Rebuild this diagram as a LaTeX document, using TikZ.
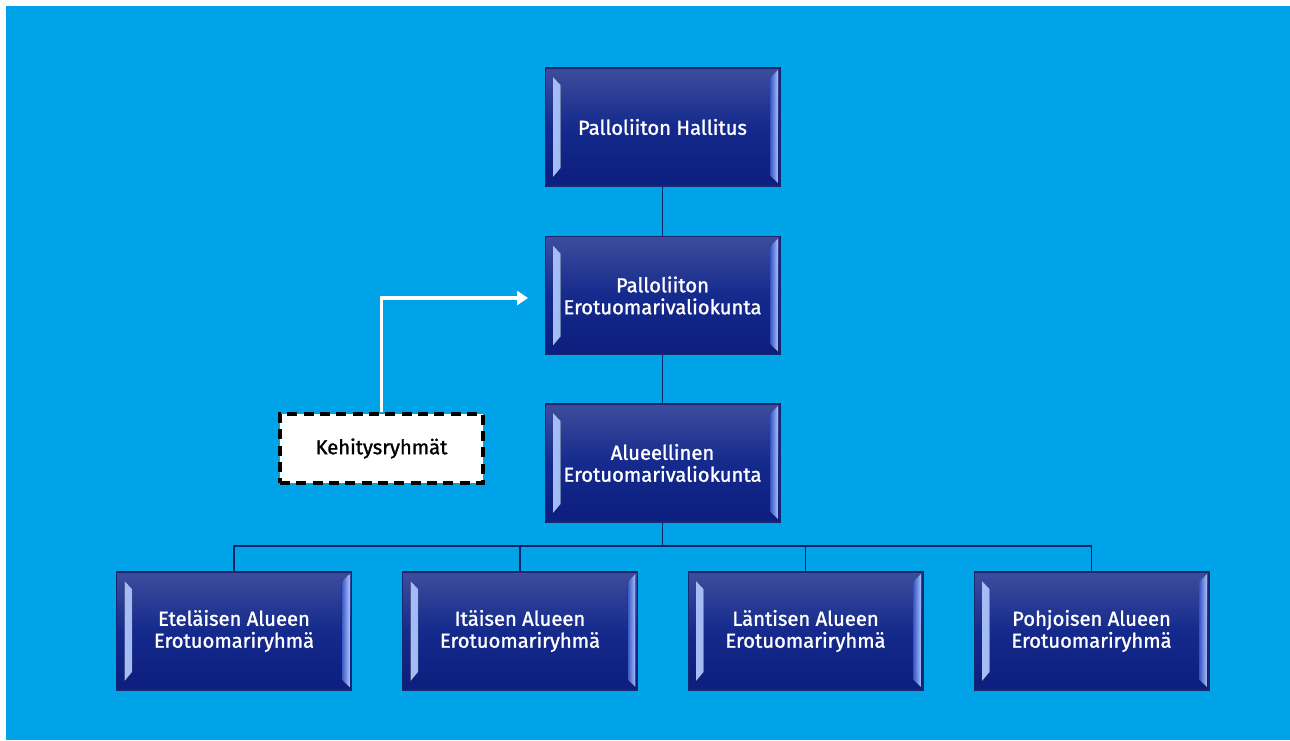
\documentclass[tikz,border=0pt]{standalone}
\usepackage{fontspec}
\setmainfont{Fira Sans}
\newfontfamily\boxfont[FakeBold=1.3]{Fira Sans}
\usetikzlibrary{arrows.meta}

\definecolor{bgblue}{RGB}{0,162,232}
\definecolor{boxtop}{RGB}{62,76,156}
\definecolor{boxmid}{RGB}{20,42,140}
\definecolor{boxbot}{RGB}{12,30,126}
\definecolor{boxline}{RGB}{22,40,110}
\definecolor{bevelhi}{RGB}{170,192,248}
\definecolor{bevello}{RGB}{60,90,200}
\definecolor{treeline}{RGB}{10,36,100}

\tikzset{
  orgbox/.style={draw=boxline,line width=0.6pt,minimum width=4.7cm,minimum height=2.36cm,
    align=center,text=white,font=\boxfont\fontsize{11.5}{12.5}\selectfont,
    top color=boxtop,bottom color=boxbot,middle color=boxmid,
    path picture={
      \fill[left color=bevelhi,right color=bevello]
        ([shift={(0.16cm,-0.18cm)}]path picture bounding box.north west)
        -- ([shift={(0.31cm,-0.34cm)}]path picture bounding box.north west)
        -- ([shift={(0.31cm,0.36cm)}]path picture bounding box.south west)
        -- ([shift={(0.16cm,0.18cm)}]path picture bounding box.south west) -- cycle;
      \fill[left color=bevello,right color=bevelhi]
        ([shift={(-0.04cm,-0.04cm)}]path picture bounding box.north east)
        -- ([shift={(-0.19cm,-0.18cm)}]path picture bounding box.north east)
        -- ([shift={(-0.19cm,0.2cm)}]path picture bounding box.south east)
        -- ([shift={(-0.04cm,0.06cm)}]path picture bounding box.south east) -- cycle;
    }},
  devbox/.style={draw=black,fill=white,line width=2.3pt,dash pattern=on 5.7pt off 3.6pt,
    minimum width=4.06cm,minimum height=1.38cm,font=\boxfont\fontsize{11.5}{12.5}\selectfont},
  tree/.style={draw=treeline,line width=1.1pt},
}

\begin{document}
\begin{tikzpicture}[x=0.02cm,y=-0.02cm]
\useasboundingbox (0,0) rectangle (1290,740);
\fill[white] (0,0) rectangle (1290,740);
\fill[bgblue] (6,6) rectangle (1290,740);

% chain from the board down
\node (hallitus) at (662.5,127) [orgbox] {Palloliiton Hallitus};
\node (evk) at (662.5,295.5) [orgbox] {Palloliiton\\Erotuomarivaliokunta};
\node (alue) at (662.5,463) [orgbox] {Alueellinen\\Erotuomarivaliokunta};

% regional groups
\node (etela) at (234,631) [orgbox] {Eteläisen Alueen\\Erotuomariryhmä};
\node (ita) at (520,631) [orgbox] {Itäisen Alueen\\Erotuomariryhmä};
\node (lansi) at (805.5,631) [orgbox] {Läntisen Alueen\\Erotuomariryhmä};
\node (pohjoinen) at (1091.5,631) [orgbox] {Pohjoisen Alueen\\Erotuomariryhmä};

\node (kehitys) at (381.5,448.5) [devbox] {Kehitysryhmät};

\draw[tree] (hallitus) -- (evk);
\draw[tree] (evk) -- (alue);
\coordinate (bus) at (662.5,546);
\draw[tree] (alue) -- (bus);
\draw[tree] (bus) -| (etela);
\draw[tree] (bus) -| (ita);
\draw[tree] (bus) -| (lansi);
\draw[tree] (bus) -| (pohjoinen);

\coordinate (tip) at (528,298);
\draw[white,line width=1.8pt,-{Triangle[length=0.22cm,width=0.28cm]}] (kehitys.north) |- (tip);

\end{tikzpicture}
\end{document}
